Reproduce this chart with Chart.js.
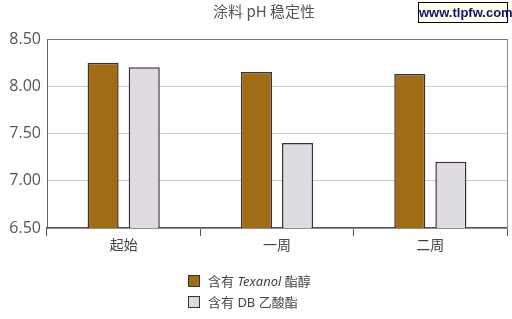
<!DOCTYPE html>
<html><head><meta charset="utf-8">
<script src="https://cdn.jsdelivr.net/npm/chart.js@4"></script>
<style>
html,body{margin:0;padding:0;background:#fff;}
#wrap{position:relative;width:512px;height:319px;font-family:"Noto Sans","Noto Sans CJK SC",sans-serif;}
canvas{position:absolute;left:0;top:0;}
#title{position:absolute;left:0;width:528px;top:0px;text-align:center;font-size:15px;color:#555;font-family:"Noto Sans CJK SC","Noto Sans",sans-serif;}
#wm{position:absolute;left:418px;top:2px;width:88px;height:19px;border:1px solid #000;background:#ffffea;font:bold 13px "Liberation Sans",Arial,sans-serif;color:#10107a;text-align:center;line-height:19px;}
#legend{position:absolute;left:188px;top:273px;font-size:13px;color:#444;font-family:"Noto Sans","Noto Sans CJK SC",sans-serif;}
.row{height:21px;line-height:17px;white-space:nowrap;}
.box{display:inline-block;width:10px;height:10px;border:1px solid #3d3030;vertical-align:-1px;margin-right:8px;}
</style></head><body>
<div id="wrap">
<canvas id="c" width="512" height="319"></canvas>
<div id="title">涂料 pH 稳定性</div>
<div id="wm">www.tlpfw.com</div>
<div id="legend"></div>
</div>
<script>
const categories = ["起始", "一周", "二周"];
const texanolValues = [8.25, 8.15, 8.13];
const dbAcetateValues = [8.20, 7.40, 7.20];
const yTicks = [6.5, 7.0, 7.5, 8.0, 8.5];
const seriesLabels = ["含有 <i>Texanol</i> 酯醇", "含有 DB 乙酸酯"];
const colors = ["#a06c14", "#dddae2"];

document.getElementById('legend').innerHTML = seriesLabels.map((l,i)=>
  '<div class="row"><span class="box" style="background:'+colors[i]+'"></span>'+l+'</div>').join('');

const frame = {
  id:'frame',
  afterDraw(chart){
    const a = chart.chartArea, ctx = chart.ctx;
    ctx.save();
    ctx.strokeStyle = '#888'; ctx.lineWidth = 1;
    ctx.beginPath(); ctx.moveTo(a.right+0.5, a.top); ctx.lineTo(a.right+0.5, a.bottom); ctx.stroke();
    ctx.restore();
  }
};

new Chart(document.getElementById('c'), {
  type:'bar',
  data:{
    labels: categories,
    datasets:[
      {data: texanolValues, backgroundColor: colors[0], borderColor:'#3d3030', borderWidth:1.5},
      {data: dbAcetateValues, backgroundColor: colors[1], borderColor:'#3d3030', borderWidth:1.5}
    ]
  },
  options:{
    responsive:false, animation:false,
    layout:{padding:{top:39,right:5,bottom:61,left:0}},
    plugins:{legend:{display:false}, title:{display:false}, tooltip:{enabled:false}},
    datasets:{bar:{categoryPercentage:0.536, barPercentage:0.756}},
    scales:{
      x:{
        offset:true,
        afterFit(s){ s.height = 30; },
        grid:{display:true, drawOnChartArea:false, drawTicks:true, tickLength:8, color:'#555', offset:true},
        border:{display:true, color:'#555', width:1.5},
        ticks:{padding:0, color:'#444', font:{size:14, family:'"Noto Sans CJK SC","Noto Sans",sans-serif'}}
      },
      y:{
        min:6.5, max:8.5,
        afterFit(s){ s.width = 47; },
        afterBuildTicks(s){ s.ticks = yTicks.map(v=>({value:v})); },
        grid:{drawTicks:false, color:(c)=> c.tick && c.tick.value===8.5 ? '#777' : '#ccc', lineWidth:1},
        border:{display:true, color:'#666', width:1},
        ticks:{padding:6, color:'#555', font:{size:16, family:'"Open Sans","Noto Sans",sans-serif'}, callback:(v)=>Number(v).toFixed(2)}
      }
    }
  },
  plugins:[frame]
});
</script>
</body></html>
